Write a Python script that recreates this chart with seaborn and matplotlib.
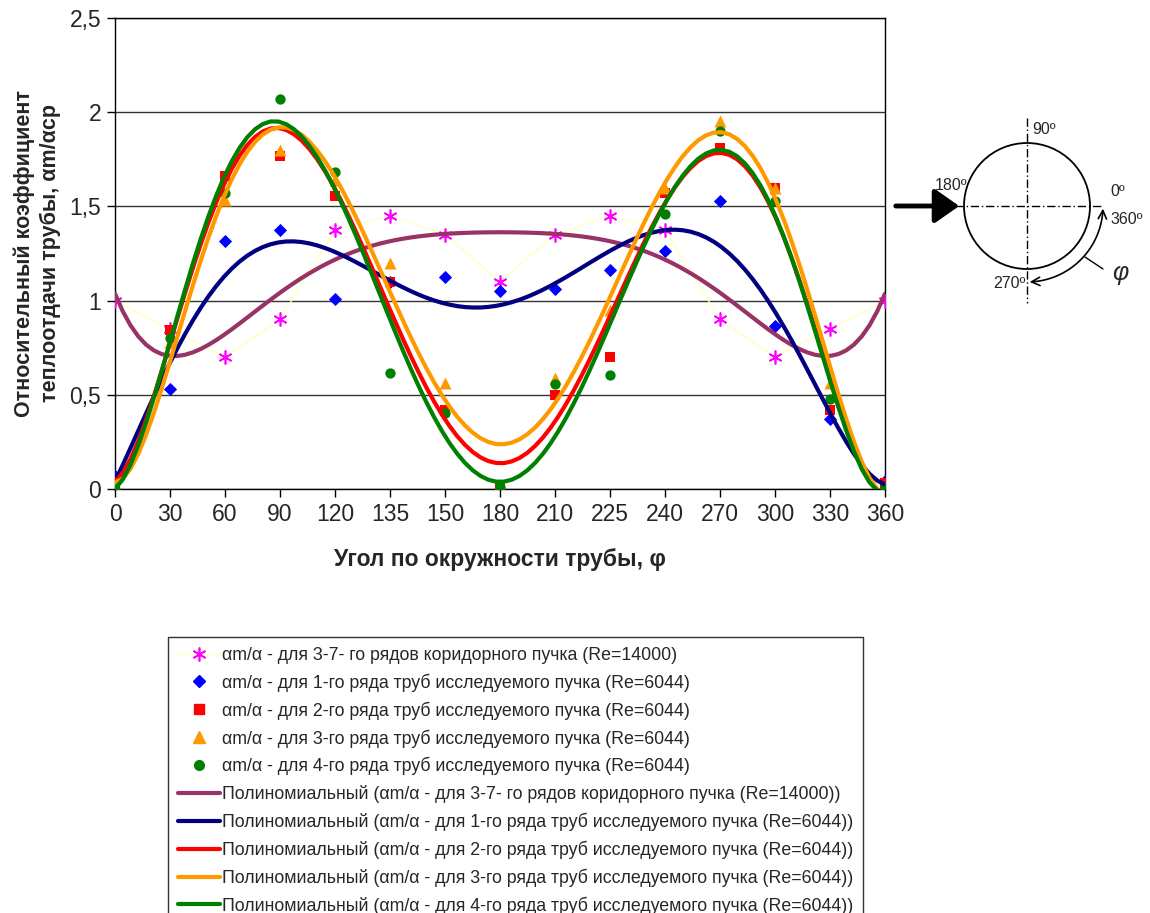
import numpy as np
import pandas as pd
import matplotlib
matplotlib.use("Agg")
import matplotlib.pyplot as plt
import seaborn as sns
from matplotlib.lines import Line2D
from matplotlib.patches import FancyArrowPatch, Circle
from matplotlib.path import Path

# ---------------- data ----------------
angles = ["0", "30", "60", "90", "120", "135", "150", "180", "210", "225",
          "240", "270", "300", "330", "360"]
s_corr = [1.0, 0.85, 0.70, 0.90, 1.375, 1.45, 1.35, 1.10, 1.35, 1.45, 1.375, 0.90, 0.70, 0.85, 1.0]
s_row1 = [0.07, 0.53, 1.315, 1.375, 1.01, 1.10, 1.125, 1.05, 1.06, 1.16, 1.265, 1.53, 0.865, 0.37, 0.04]
s_row2 = [0.01, 0.845, 1.66, 1.77, 1.555, 1.10, 0.42, 0.02, 0.50, 0.70, 1.57, 1.81, 1.60, 0.42, 0.03]
s_row3 = [0.0, 0.78, 1.535, 1.80, 1.64, 1.20, 0.56, 0.0, 0.59, 0.95, 1.60, 1.955, 1.60, 0.56, 0.0]
s_row4 = [0.0, 0.80, 1.57, 2.07, 1.68, 0.615, 0.405, 0.01, 0.555, 0.605, 1.46, 1.90, 1.53, 0.48, 0.01]
y_ticks = [0, 0.5, 1, 1.5, 2, 2.5]
y_tick_labels = ["0", "0,5", "1", "1,5", "2", "2,5"]

labels_pts = [
    "αm/α - для 3-7- го рядов коридорного пучка (Re=14000)",
    "αm/α - для 1-го ряда труб исследуемого пучка (Re=6044)",
    "αm/α - для 2-го ряда труб исследуемого пучка (Re=6044)",
    "αm/α - для 3-го ряда труб исследуемого пучка (Re=6044)",
    "αm/α - для 4-го ряда труб исследуемого пучка (Re=6044)",
]
labels_fit = ["Полиномиальный (" + l + ")" for l in labels_pts]

# ---------------- style ----------------
sns.set_theme(style="white")
plt.rcParams["font.family"] = ["Liberation Sans", "DejaVu Sans"]

fig = plt.figure(figsize=(11.5, 9.13), dpi=100)
ax = fig.add_axes([115 / 1150, 1 - 489 / 913, (885 - 115) / 1150, (489 - 18) / 913])

idx = np.arange(len(angles))
df = pd.DataFrame({"idx": idx, "c": s_corr, "r1": s_row1, "r2": s_row2,
                   "r3": s_row3, "r4": s_row4})

# points
ast = (6, 2, 0)
sns.lineplot(data=df, x="idx", y="c", ax=ax, color="#FFFFC0", lw=1,
             marker=ast, markersize=10, markeredgecolor="#FF00FF",
             markerfacecolor="#FF00FF", markeredgewidth=1.2, zorder=3)
sns.scatterplot(data=df, x="idx", y="r1", ax=ax, marker="D", s=45,
                color="#0000FF", linewidth=0, zorder=3)
sns.scatterplot(data=df, x="idx", y="r2", ax=ax, marker="s", s=55,
                color="#FF0000", linewidth=0, zorder=3)
sns.scatterplot(data=df, x="idx", y="r3", ax=ax, marker="^", s=75,
                color="#FF9900", linewidth=0, zorder=3)
sns.scatterplot(data=df, x="idx", y="r4", ax=ax, marker="o", s=55,
                color="#008000", linewidth=0, zorder=3)

# polynomial trendlines (order 6)
fit_cols = [("c", "#993366"), ("r1", "#000080"), ("r2", "#FF0000"),
            ("r3", "#FF9900"), ("r4", "#008000")]
for i, (col, colr) in enumerate(fit_cols):
    sns.regplot(data=df, x="idx", y=col, ax=ax, order=6, ci=None,
                scatter=False, truncate=True,
                line_kws=dict(color=colr, lw=3, zorder=4 + i))

ax.set_xlim(0, 14)
ax.set_ylim(0, 2.5)
ax.set_xticks(idx)
ax.set_xticklabels(angles, fontsize=16.5)
ax.set_yticks(y_ticks)
ax.set_yticklabels(y_tick_labels, fontsize=16.5)
ax.tick_params(axis="both", direction="out", length=6, width=1, color="black",
               bottom=True, left=True, pad=4)
ax.yaxis.grid(True, color="#333333", lw=1)
ax.set_axisbelow(True)
for sp in ax.spines.values():
    sp.set_color("black")
    sp.set_linewidth(1)
ax.set_xlabel("Угол по окружности трубы, φ", fontsize=16.5, fontweight="bold",
              labelpad=16)
ax.set_ylabel("Относительный коэффициент\nтеплоотдачи трубы, αm/αср",
              fontsize=15.5, fontweight="bold", labelpad=6, linespacing=1.3)

# legend
handles = [
    Line2D([], [], color="#FFFFC0", lw=1, marker=ast, markersize=10,
           markeredgecolor="#FF00FF", markeredgewidth=1.2),
    Line2D([], [], ls="none", marker="D", markersize=6, color="#0000FF"),
    Line2D([], [], ls="none", marker="s", markersize=7, color="#FF0000"),
    Line2D([], [], ls="none", marker="^", markersize=8, color="#FF9900"),
    Line2D([], [], ls="none", marker="o", markersize=7, color="#008000"),
]
handles += [Line2D([], [], color=c, lw=3) for _, c in fit_cols]
leg = fig.legend(handles, labels_pts + labels_fit, loc="upper left",
                 bbox_to_anchor=(168 / 1150, 1 - 637 / 913), fontsize=12.8,
                 frameon=True, fancybox=False, edgecolor="black",
                 handlelength=2.35, handletextpad=0.15, labelspacing=0.54,
                 borderpad=0.55, borderaxespad=0)
leg.get_frame().set_linewidth(1)

# ---------------- schematic on the right ----------------
ov = fig.add_axes([0, 0, 1, 1], zorder=10)
ov.set_xlim(0, 1150)
ov.set_ylim(913, 0)
ov.axis("off")
ov.patch.set_alpha(0)
cx, cy, r = 1027, 206, 63
ov.add_patch(Circle((cx, cy), r, fill=False, ec="black", lw=1.3))
ov.plot([955, 1103], [cy, cy], color="black", lw=1, ls=(0, (6, 2, 1, 2)))
ov.plot([cx, cx], [118, 303], color="black", lw=1, ls=(0, (6, 2, 1, 2)))
ov.add_patch(FancyArrowPatch((893, cy), (962, cy), arrowstyle="-|>,head_length=10,head_width=7",
                             color="black", lw=3.5, mutation_scale=1.5))
th = np.linspace(np.deg2rad(-2), np.deg2rad(-88), 40)
ra = 76
pts = np.column_stack([cx + ra * np.cos(th), cy - ra * np.sin(th)])
arc = FancyArrowPatch(path=Path(pts), arrowstyle="<->,head_length=6,head_width=3",
                      color="black", lw=1.2)
ov.add_patch(arc)
ov.plot([1085, 1103], [257, 269], color="black", lw=1)
fs = 11.5
ov.text(1032, 130, "90º", fontsize=fs, va="center", ha="left")
ov.text(935, 186, "180º", fontsize=fs, va="center", ha="left")
ov.text(1110, 191, "0º", fontsize=fs, va="center", ha="left")
ov.text(1110, 219, "360º", fontsize=fs, va="center", ha="left")
ov.text(993, 284, "270º", fontsize=fs, va="center", ha="left")
ov.text(1112, 273, "φ", fontsize=18, fontstyle="italic", va="center", ha="left")

fig.savefig("out.png", dpi=100)
